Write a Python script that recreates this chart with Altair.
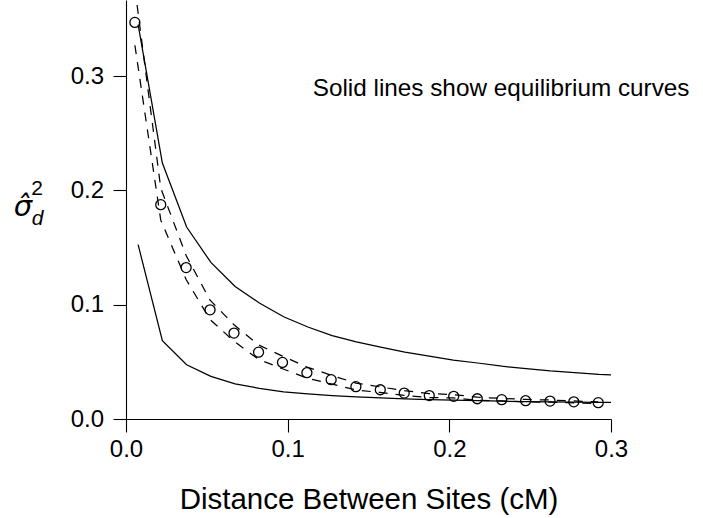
import altair as alt
import pandas as pd

# observed points (circles) and the two dashed bounding curves
x_obs = [0.0055, 0.0215, 0.0372, 0.0520, 0.0668, 0.0820, 0.0968, 0.1119, 0.1269, 0.1422,
         0.1573, 0.1721, 0.1876, 0.2027, 0.2173, 0.2324, 0.2472, 0.2623, 0.2770, 0.2921]
y_obs = [0.347, 0.1875, 0.1325, 0.0955, 0.0752, 0.0585, 0.0495, 0.0405, 0.0344, 0.0283,
         0.0256, 0.0227, 0.0205, 0.0198, 0.0177, 0.0169, 0.0160, 0.0157, 0.0150, 0.0143]
y_dash_hi = [0.377, 0.202, 0.143, 0.104, 0.0825, 0.0648, 0.0550, 0.0455, 0.0383, 0.0314,
             0.0281, 0.0248, 0.0223, 0.0213, 0.0191, 0.0180, 0.0171, 0.0166, 0.0158, 0.0150]
y_dash_lo = [0.327, 0.174, 0.122, 0.087, 0.0680, 0.0522, 0.0440, 0.0358, 0.0307, 0.0254,
             0.0232, 0.0207, 0.0188, 0.0184, 0.0164, 0.0158, 0.0149, 0.0148, 0.0142, 0.0136]

# equilibrium curves (solid)
x_eq = [0.0075, 0.0225, 0.0375, 0.0525, 0.0675, 0.0825, 0.0975, 0.1125, 0.1275, 0.1425,
        0.1575, 0.1725, 0.1875, 0.2025, 0.2175, 0.2325, 0.2475, 0.2625, 0.2775, 0.2925, 0.3]
y_eq_hi = [0.345, 0.224, 0.168, 0.137, 0.116, 0.1015, 0.0895, 0.0805, 0.073, 0.0675,
           0.0628, 0.0585, 0.055, 0.0516, 0.049, 0.0462, 0.044, 0.042, 0.0405, 0.039, 0.0385]
y_eq_lo = [0.1525, 0.0685, 0.0475, 0.0373, 0.0308, 0.0268, 0.0238, 0.022, 0.0205, 0.0193,
           0.0184, 0.0176, 0.0170, 0.0165, 0.0160, 0.0156, 0.0153, 0.0150, 0.0148, 0.0146, 0.0145]

x_ticks = [0.0, 0.1, 0.2, 0.3]
y_ticks = [0.0, 0.1, 0.2, 0.3]
x_title = "Distance Between Sites (cM)"
note = "Solid lines show equilibrium curves"

FONT = "Liberation Sans"
xs = alt.Scale(domain=[0, 0.3], nice=False, zero=False)
ys = alt.Scale(domain=[0, 0.3666], nice=False, zero=False)

x_enc = alt.X("x:Q", scale=xs, axis=alt.Axis(
    values=x_ticks, format=".1f", title=x_title, tickSize=13, labelPadding=5, labelFlush=False,
    titleFontSize=29.5, titleFont=FONT, titleFontWeight="normal", titleColor="black",
    titleBaseline="alphabetic", titleY=89, titleAnchor="middle"))
y_enc = alt.Y("y:Q", scale=ys, axis=alt.Axis(
    values=y_ticks, format=".1f", title=None, tickSize=13, labelPadding=9.5, labelFlush=False))

def line_layer(xv, yv, dash=None):
    df = pd.DataFrame({"x": xv, "y": yv})
    kw = dict(color="black", strokeWidth=1.25, clip=True)
    if dash:
        kw["strokeDash"] = dash
    return alt.Chart(df).mark_line(**kw).encode(x=x_enc, y=y_enc)

solid_hi = line_layer(x_eq, y_eq_hi)
solid_lo = line_layer(x_eq, y_eq_lo)
dash_hi = line_layer(x_obs, y_dash_hi, [9, 8])
dash_lo = line_layer(x_obs, y_dash_lo, [9, 8])

pts = alt.Chart(pd.DataFrame({"x": x_obs, "y": y_obs})).mark_point(
    shape="circle", size=100, filled=False, color="black", strokeWidth=1.3, clip=True, opacity=1
).encode(x=x_enc, y=y_enc)

note_layer = alt.Chart(pd.DataFrame({"x": [0.1155], "y": [0.283], "t": [note]})).mark_text(
    align="left", baseline="alphabetic", fontSize=24.3, font=FONT, color="black"
).encode(x="x:Q", y="y:Q", text="t:N")

dummy = pd.DataFrame({"a": [0]})
sigma = alt.Chart(dummy).mark_text(
    text="σ\u0302", align="center", baseline="alphabetic", fontSize=29, font="DejaVu Sans",
    fontStyle="italic", color="black"
).encode(x=alt.value(-103), y=alt.value(216))
sup2 = alt.Chart(dummy).mark_text(
    text="2", align="center", baseline="alphabetic", fontSize=21, font=FONT, color="black"
).encode(x=alt.value(-89), y=alt.value(195))
subd = alt.Chart(dummy).mark_text(
    text="d", align="center", baseline="alphabetic", fontSize=21, font=FONT,
    fontStyle="italic", color="black"
).encode(x=alt.value(-88.5), y=alt.value(225))

chart = alt.layer(solid_hi, solid_lo, dash_hi, dash_lo, pts, note_layer, sigma, sup2, subd).properties(
    width=485, height=419,
    padding={"left": 126, "top": 0, "right": 92, "bottom": 99},
    autosize="none", background="white"
).configure_view(stroke=None).configure_axis(
    grid=False, domainColor="black", domainWidth=1.1, tickColor="black", tickWidth=1.1,
    labelFont=FONT, labelFontSize=24, labelColor="black"
)

chart.save("out.html", embed_options={"renderer": "svg", "actions": False})
